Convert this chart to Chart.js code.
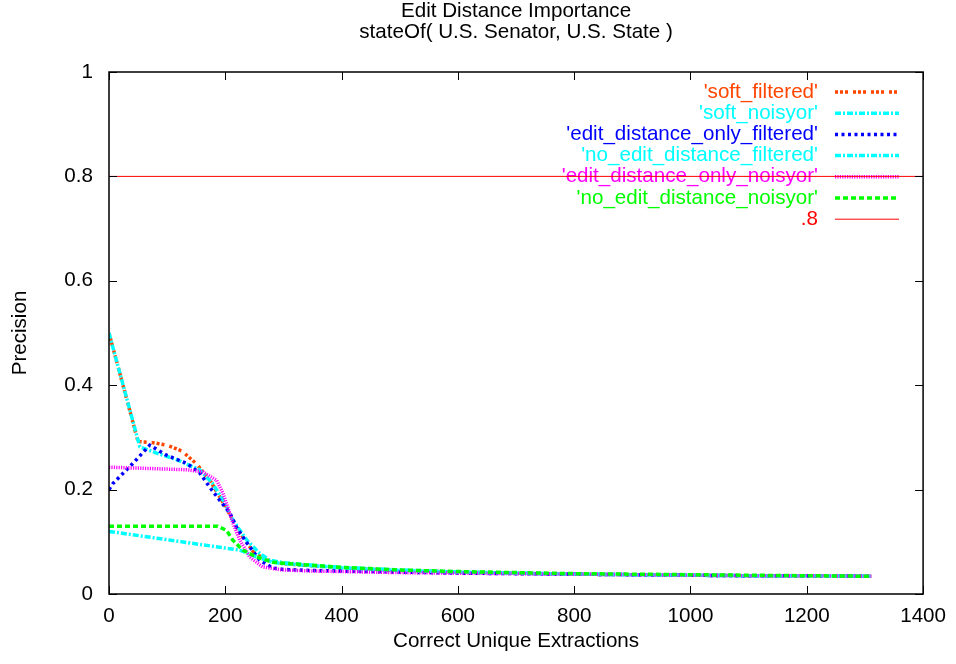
<!DOCTYPE html>
<html><head><meta charset="utf-8">
<script src="https://cdn.jsdelivr.net/npm/chart.js@4.4.0/dist/chart.umd.min.js"></script>
<style>html,body{margin:0;padding:0;background:#fff;}</style>
</head><body>
<canvas id="c" width="956" height="664"></canvas>
<script>
// ---------- data ----------
const titleLines = ["Edit Distance Importance", "stateOf( U.S. Senator, U.S. State )"];
const xAxisTitle = "Correct Unique Extractions";
const yAxisTitle = "Precision";
const xTicks = [0, 200, 400, 600, 800, 1000, 1200, 1400];
const xTickLabels = ["0", "200", "400", "600", "800", "1000", "1200", "1400"];
const yTicks = [0, 0.2, 0.4, 0.6, 0.8, 1];
const yTickLabels = ["0", "0.2", "0.4", "0.6", "0.8", "1"];

const seriesNames = ["'soft_filtered'", "'soft_noisyor'", "'edit_distance_only_filtered'",
  "'no_edit_distance_filtered'", "'edit_distance_only_noisyor'", "'no_edit_distance_noisyor'", ".8"];

const softFilteredX = [0, 50, 75, 100, 125, 150, 175, 200, 225, 250, 275, 300, 350, 400, 500, 600, 700, 800, 900, 1000, 1100, 1200, 1311];
const softFilteredY = [0.5, 0.292, 0.29, 0.285, 0.274, 0.25, 0.215, 0.168, 0.117, 0.078, 0.064, 0.058, 0.054, 0.050, 0.045, 0.042, 0.040, 0.038, 0.037, 0.036, 0.035, 0.035, 0.034];

const softNoisyorX = [0, 53, 82, 117, 156, 178, 196, 213, 237, 259, 276, 300, 350, 400, 500, 600, 700, 800, 900, 1000, 1100, 1200, 1311];
const softNoisyorY = [0.5, 0.282, 0.27, 0.257, 0.238, 0.212, 0.18, 0.142, 0.103, 0.078, 0.065, 0.060, 0.055, 0.051, 0.046, 0.042, 0.040, 0.038, 0.037, 0.036, 0.035, 0.035, 0.034];

const edOnlyFilteredX = [0, 7, 41, 70, 99, 134, 156, 173, 190, 208, 219, 237, 259, 281, 300, 350, 400, 500, 600, 700, 800, 900, 1000, 1100, 1200, 1311];
const edOnlyFilteredY = [0.2, 0.212, 0.25, 0.285, 0.266, 0.25, 0.232, 0.205, 0.18, 0.155, 0.128, 0.098, 0.065, 0.050, 0.047, 0.045, 0.044, 0.042, 0.040, 0.039, 0.038, 0.037, 0.036, 0.035, 0.035, 0.034];

const noEdFilteredX = [0, 225, 254, 281, 300, 350, 400, 500, 600, 700, 800, 900, 1000, 1100, 1200, 1311];
const noEdFilteredY = [0.12, 0.084, 0.071, 0.061, 0.058, 0.054, 0.050, 0.045, 0.042, 0.040, 0.038, 0.037, 0.036, 0.035, 0.035, 0.034];

const edOnlyNoisyorX = [0, 134, 161, 185, 196, 204, 213, 225, 242, 264, 298, 350, 400, 500, 600, 700, 800, 900, 1000, 1100, 1200, 1311];
const edOnlyNoisyorY = [0.243, 0.238, 0.234, 0.218, 0.193, 0.167, 0.136, 0.103, 0.071, 0.052, 0.046, 0.044, 0.043, 0.041, 0.040, 0.039, 0.038, 0.037, 0.036, 0.035, 0.035, 0.034];

const noEdNoisyorX = [0, 187, 202, 213, 230, 254, 281, 300, 350, 400, 500, 600, 700, 800, 900, 1000, 1100, 1200, 1311];
const noEdNoisyorY = [0.13, 0.13, 0.122, 0.103, 0.084, 0.071, 0.061, 0.059, 0.055, 0.051, 0.046, 0.043, 0.041, 0.039, 0.038, 0.037, 0.036, 0.035, 0.034];

const refLineX = [0, 1400];
const refLineY = [0.8, 0.8];

// ---------- styles ----------
const FONT = "'Liberation Sans', Arial, Helvetica, sans-serif";
const FSIZE = 20.6;
const styles = [
  { color: '#ff4500', dash: [3, 2, 3, 2, 3, 5], width: 3.5 },
  { color: '#00ffff', dash: [6, 2, 2, 2], width: 3.5 },
  { color: '#0000ff', dash: [3, 3.5], width: 3.5 },
  { color: '#00ffff', dash: [6, 2, 2, 2], width: 3.5 },
  { color: '#ff00ff', dash: [1.2, 1.2], width: 3.5 },
  { color: '#00ff00', dash: [5, 3], width: 3.5 },
  { color: '#ff0000', dash: [], width: 1 }
];
const xs = [softFilteredX, softNoisyorX, edOnlyFilteredX, noEdFilteredX, edOnlyNoisyorX, noEdNoisyorX, refLineX];
const ys = [softFilteredY, softNoisyorY, edOnlyFilteredY, noEdFilteredY, edOnlyNoisyorY, noEdNoisyorY, refLineY];

const datasets = seriesNames.map((name, i) => ({
  label: name,
  data: xs[i].map((x, j) => ({ x: x, y: ys[i][j] })),
  borderColor: styles[i].color,
  backgroundColor: styles[i].color,
  borderWidth: styles[i].width,
  borderDash: styles[i].dash,
  borderCapStyle: 'butt',
  pointRadius: 0,
  tension: 0,
  fill: false
})).reverse(); // later series drawn on top (dataset 0 is drawn last)

const gnuplotDecor = {
  id: 'gnuplotDecor',
  beforeDatasetsDraw(chart) {
    const ctx = chart.ctx;
    const a = chart.chartArea;
    ctx.save();
    ctx.fillStyle = '#000';
    ctx.font = FSIZE + 'px ' + FONT;
    ctx.textAlign = 'center';
    ctx.textBaseline = 'middle';
    const cx = (a.left + a.right) / 2;
    ctx.fillText(titleLines[0], cx, 11);
    ctx.fillText(titleLines[1], cx, 32);
    ctx.fillText(xAxisTitle, cx, 641);
    ctx.save();
    ctx.translate(20, (a.top + a.bottom) / 2);
    ctx.rotate(-Math.PI / 2);
    ctx.fillText(yAxisTitle, 0, 0);
    ctx.restore();
    // key
    const rowY0 = 92, rowStep = 21.2;
    seriesNames.forEach((name, i) => {
      const y = rowY0 + i * rowStep;
      ctx.fillStyle = styles[i].color;
      ctx.textAlign = 'right';
      ctx.fillText(name, 818, y);
      ctx.beginPath();
      ctx.strokeStyle = styles[i].color;
      ctx.lineWidth = styles[i].width;
      ctx.lineCap = 'butt';
      ctx.setLineDash(styles[i].dash);
      ctx.moveTo(835, y);
      ctx.lineTo(899, y);
      ctx.stroke();
    });
    ctx.restore();
  },
  afterDatasetsDraw(chart) {
    const ctx = chart.ctx;
    const a = chart.chartArea;
    const sx = chart.scales.x, sy = chart.scales.y;
    ctx.save();
    ctx.strokeStyle = '#000';
    ctx.lineWidth = 1.5;
    ctx.setLineDash([]);
    ctx.strokeRect(a.left, a.top, a.right - a.left, a.bottom - a.top);
    const tl = 8;
    ctx.lineWidth = 1;
    ctx.beginPath();
    xTicks.forEach(v => {
      const p = Math.round(sx.getPixelForValue(v)) + 0.5;
      ctx.moveTo(p, a.bottom); ctx.lineTo(p, a.bottom - tl);
      ctx.moveTo(p, a.top); ctx.lineTo(p, a.top + tl);
    });
    yTicks.forEach(v => {
      const p = Math.round(sy.getPixelForValue(v)) + 0.5;
      ctx.moveTo(a.left, p); ctx.lineTo(a.left + tl, p);
      ctx.moveTo(a.right, p); ctx.lineTo(a.right - tl, p);
    });
    ctx.stroke();
    ctx.restore();
  }
};

new Chart(document.getElementById('c'), {
  type: 'line',
  data: { datasets: datasets },
  options: {
    responsive: false,
    animation: false,
    devicePixelRatio: 1,
    layout: { padding: { top: 72, right: 31, left: 0, bottom: 0 } },
    plugins: { legend: { display: false }, tooltip: { enabled: false }, title: { display: false } },
    scales: {
      x: {
        type: 'linear', min: 0, max: 1400,
        afterBuildTicks: s => { s.ticks = xTicks.map(v => ({ value: v })); },
        afterFit: s => { s.height = 70; },
        ticks: { color: '#000', font: { family: FONT, size: FSIZE }, padding: 10, maxRotation: 0, autoSkip: false,
          callback: (v, i) => xTickLabels[i] },
        grid: { display: false, drawTicks: false },
        border: { display: false }
      },
      y: {
        type: 'linear', min: 0, max: 1,
        afterBuildTicks: s => { s.ticks = yTicks.map(v => ({ value: v })); },
        afterFit: s => { s.width = 109; },
        ticks: { color: '#000', font: { family: FONT, size: FSIZE }, padding: 16, autoSkip: false,
          callback: (v, i) => yTickLabels[i] },
        grid: { display: false, drawTicks: false },
        border: { display: false }
      }
    }
  },
  plugins: [gnuplotDecor]
});
</script>
</body></html>
